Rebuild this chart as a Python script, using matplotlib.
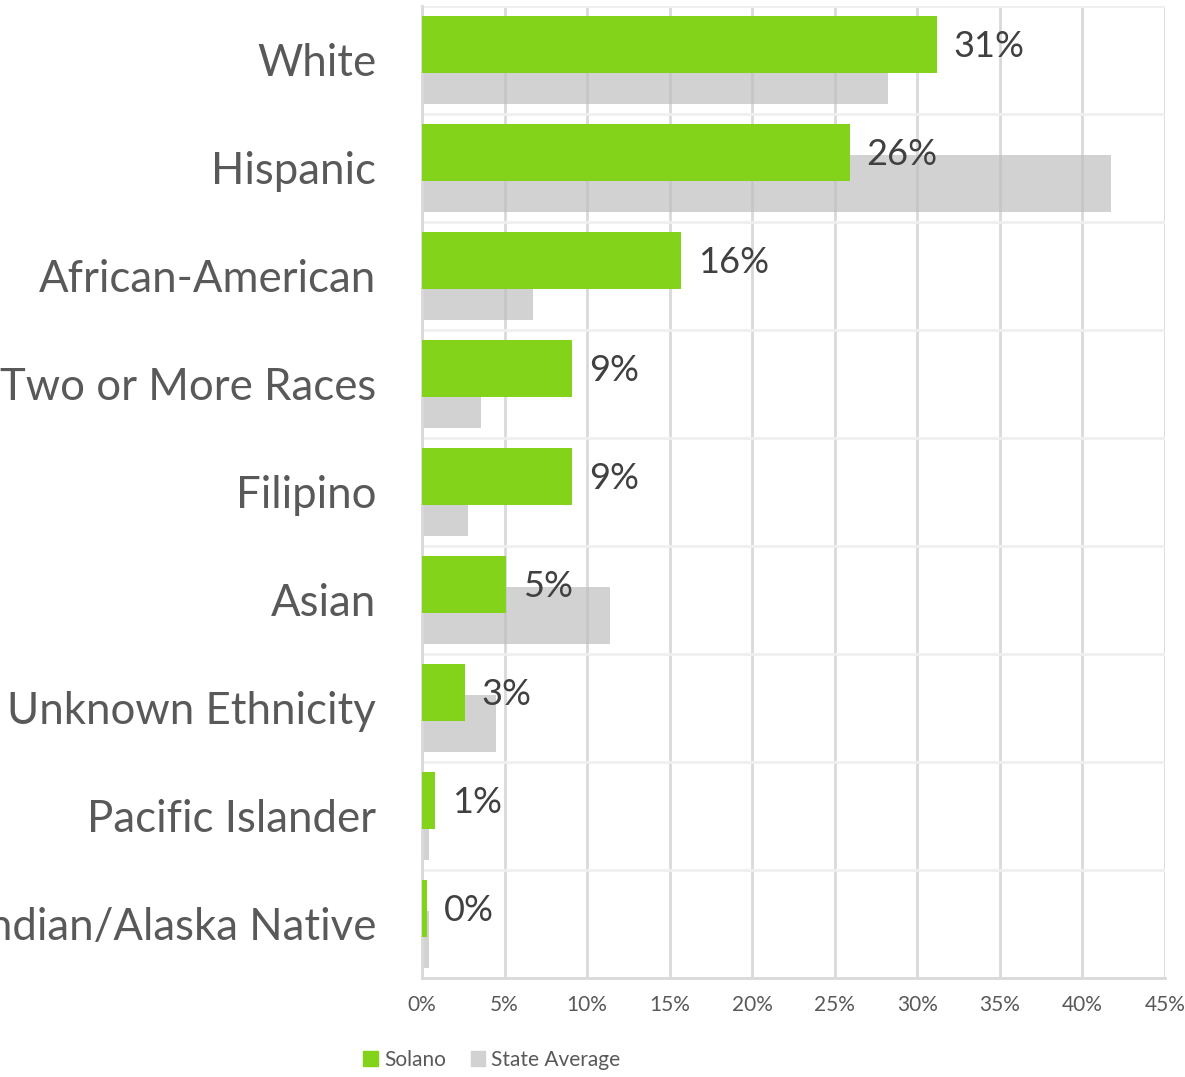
import matplotlib.pyplot as plt
import numpy as np
from matplotlib.patches import Patch

groups = ["White", "Hispanic", "African-American", "Two or More Races", "Filipino",
          "Asian", "Unknown Ethnicity", "Pacific Islander",
          "American Indian/Alaska Native"]
solano = [31.2, 25.9, 15.7, 9.1, 9.1, 5.1, 2.6, 0.8, 0.3]
state_avg = [28.2, 41.7, 6.7, 3.6, 2.8, 11.4, 4.5, 0.4, 0.4]
solano_labels = ["31%", "26%", "16%", "9%", "9%", "5%", "3%", "1%", "0%"]

plt.rcParams['font.family'] = ['Lato', 'DejaVu Sans']

fig = plt.figure(figsize=(11.85, 10.77), dpi=100)
ax = fig.add_axes([422 / 1185, 1 - 978 / 1077, 743 / 1185, 972 / 1077])

y = np.arange(len(groups))
h = 0.53
off = 0.145

ax.barh(y + off, state_avg, height=h, color='#bfbfbf', alpha=0.7, zorder=2,
        label="State Average")
ax.barh(y - off, solano, height=h, color='#82d31a', zorder=3, label="Solano")

for yi, v, lab in zip(y, solano, solano_labels):
    ax.text(v + 1.0, yi - off + 0.02, lab, va='center', ha='left', fontsize=26,
            color='#404040', zorder=4)

ax.set_xlim(0, 45)
ax.set_ylim(len(groups) - 0.5, -0.5)
ax.set_xticks(np.arange(0, 46, 5))
ax.set_xticklabels([f"{v}%" for v in range(0, 46, 5)])
ax.set_yticks(y)
ax.set_yticklabels(groups)
ax.set_yticks(np.arange(-0.5, len(groups), 0.5), minor=True)

ax.tick_params(axis='y', which='both', length=0, pad=33, labelsize=31.5,
               labelcolor='#595959')
ax.tick_params(axis='x', length=0, pad=12, labelsize=15, labelcolor='#595959')

ax.grid(axis='x', which='major', color='#d9d9d9', linewidth=2, zorder=0)
ax.grid(axis='y', which='minor', color='#efefef', linewidth=2, zorder=0)
ax.set_axisbelow(True)
for s in ['top', 'right']:
    ax.spines[s].set_visible(False)
for s in ['left', 'bottom']:
    ax.spines[s].set_color('#d9d9d9')
    ax.spines[s].set_linewidth(2)

handles = [Patch(color='#82d31a', label='Solano'),
           Patch(color='#d2d2d2', label='State Average')]
fig.legend(handles=handles, loc='center', bbox_to_anchor=(0.415, 0.016),
           ncol=2, frameon=False, fontsize=15, labelcolor='#595959',
           handlelength=0.7, handleheight=0.7, handletextpad=0.3,
           columnspacing=1.2)

fig.savefig("out.png", dpi=100)
